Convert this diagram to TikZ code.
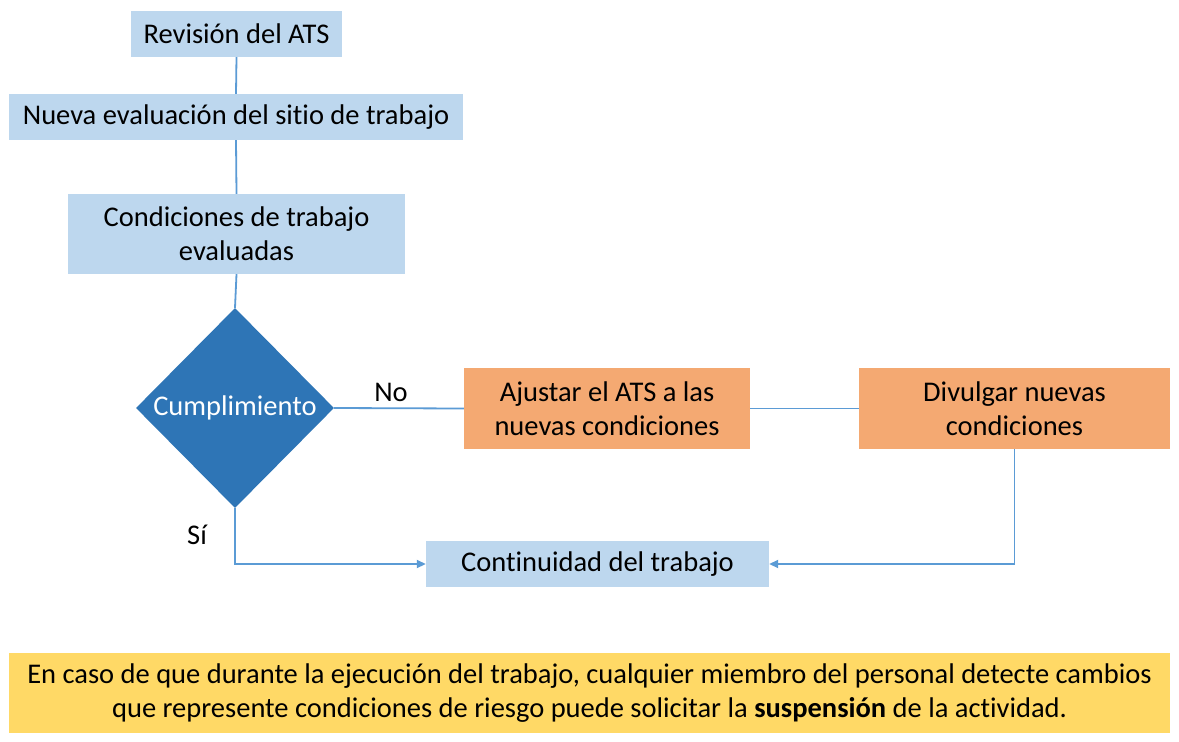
\documentclass[tikz,border=0pt]{standalone}
\usepackage{fontspec}
\setmainfont{Carlito}[Ligatures=NoCommon]
\usetikzlibrary{shapes.geometric,arrows.meta}
\definecolor{lblue}{HTML}{BDD7EE}
\definecolor{dblue}{HTML}{2E75B6}
\definecolor{lorange}{HTML}{F4A972}
\definecolor{lyellow}{HTML}{FFD966}
\definecolor{conn}{HTML}{5B9BD5}
\begin{document}
\begin{tikzpicture}[x=1pt,y=-1pt,
  every node/.style={font=\fontsize{28.5}{34}\selectfont, inner sep=0pt, align=center},
  bluebox/.style={fill=lblue},
  orangebox/.style={fill=lorange},
  notebox/.style={fill=lyellow},
  decision/.style={diamond, fill=dblue, text=white, aspect=1},
  link/.style={draw=conn, line width=1.8pt},
  arrowlink/.style={link, -{Triangle[length=9pt,width=8pt]}},
  lbl/.style={font=\fontsize{28.5}{34}\selectfont}
]
\useasboundingbox (0,0) rectangle (1179,742);
\fill[white] (0,0) rectangle (1179,742);

\node[bluebox, minimum width=211pt, minimum height=46pt] (rev) at (236.5,34) {Revisión del ATS};
\node[bluebox, minimum width=454pt, minimum height=46pt] (nueva) at (236,117) {Nueva evaluación del sitio de trabajo};
\node[bluebox, minimum width=337pt, minimum height=80pt] (cond) at (236.5,234) {Condiciones de trabajo\\evaluadas};
\node[decision, minimum width=198pt, minimum height=200pt] (dec) at (235,408) {Cumplimiento};
\node[orangebox, minimum width=286pt, minimum height=81pt] (ajus) at (607,408.5) {Ajustar el ATS a las\\nuevas condiciones};
\node[orangebox, minimum width=311pt, minimum height=81pt] (div) at (1014.5,408.5) {Divulgar nuevas\\condiciones};
\node[bluebox, minimum width=343pt, minimum height=46pt] (cont) at (597.5,564) {Continuidad del trabajo};
\node[notebox, minimum width=1161pt, minimum height=80pt] (note) at (589.5,693) {En caso de que durante la ejecución del trabajo, cualquier miembro del personal detecte cambios\\que represente condiciones de riesgo puede solicitar la \textbf{suspensión} de la actividad.};

\node[lbl] (no) at (391,392) {No};
\node[lbl] (si) at (197,535) {Sí};

\draw[link] (rev.south) -- (nueva.north);
\draw[link] (nueva.south) -- (cond.north);
\draw[link] (cond.south) -- (dec.north);
\draw[link] (dec.east) -- (ajus.west);
\draw[link] (ajus.east) -- (div.west);
\draw[arrowlink] (dec.south) |- (cont.west);
\draw[arrowlink] (div.south) |- (cont.east);
\end{tikzpicture}
\end{document}
